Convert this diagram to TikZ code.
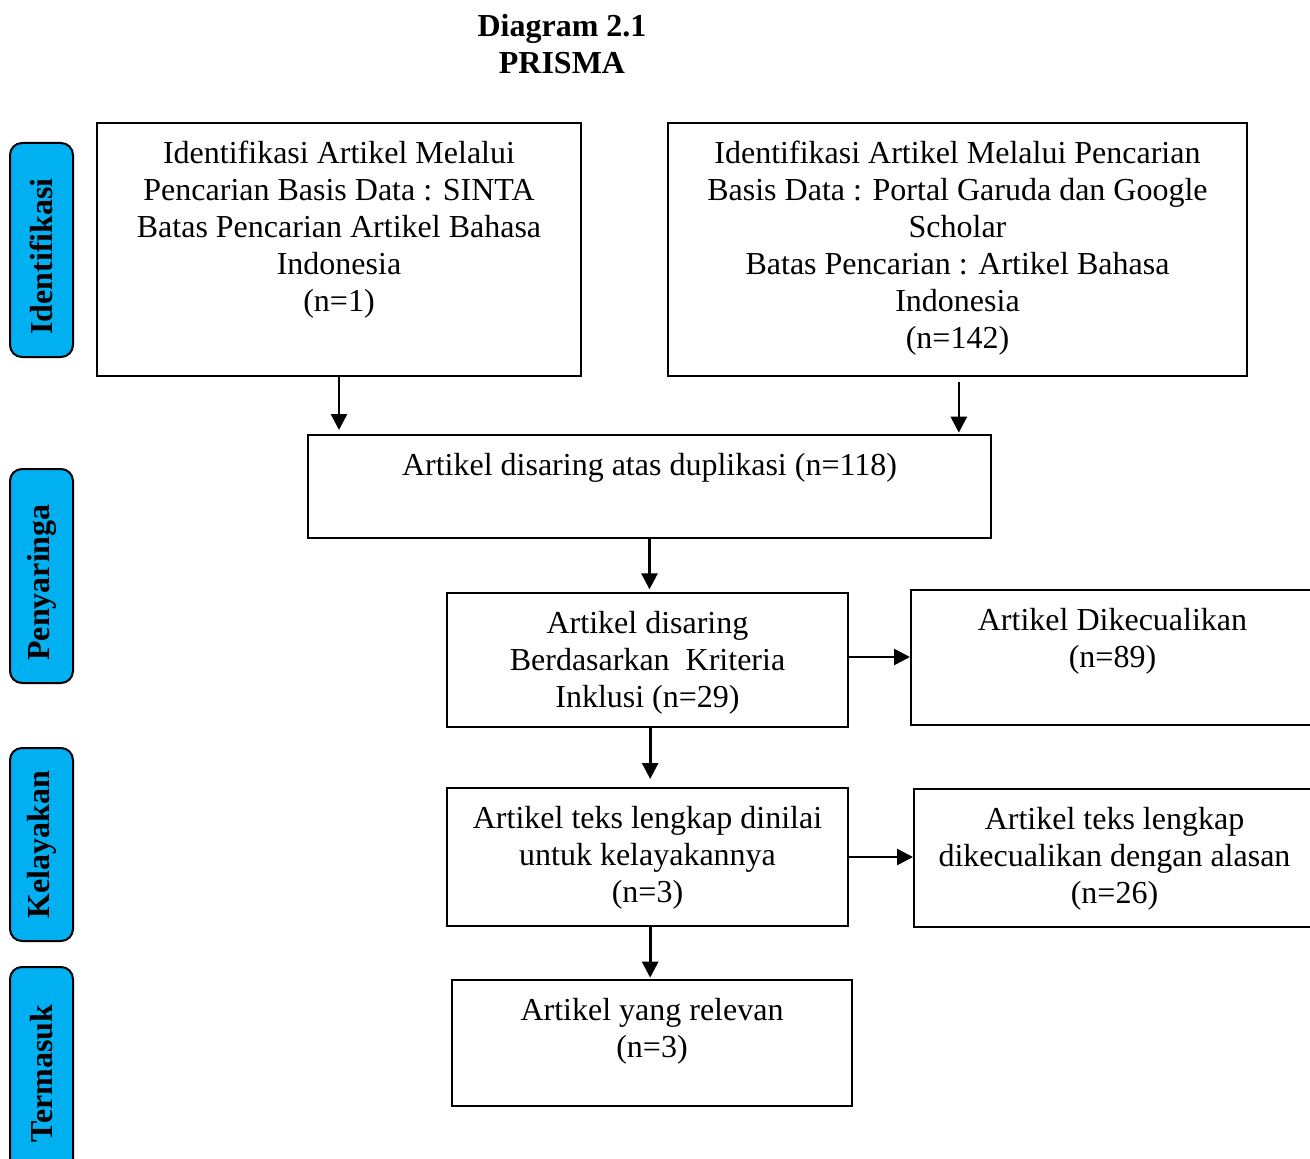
\documentclass[tikz,border=0pt]{standalone}
\usepackage{fontspec}
\setmainfont{Liberation Serif}
\usetikzlibrary{arrows.meta}
\definecolor{tabblue}{HTML}{00B0F0}
\tikzset{
  txt/.style={font=\fontsize{24pt}{27.75pt}\selectfont, inner sep=0pt, align=center, anchor=north},
  boxtxt/.style={txt, yshift=-11.25pt},
  box/.style={draw, line width=1.5pt, inner sep=0pt},
  tab/.style={draw, line width=1.5pt, fill=tabblue, rounded corners=9pt, rotate=90, inner sep=0pt},
  tabtxt/.style={rotate=90, inner sep=0pt, font=\fontsize{24pt}{27.75pt}\selectfont\bfseries},
  arr/.style={line width=2pt, -{Triangle[length=12pt,width=12pt]}}
}
\begin{document}
\begin{tikzpicture}[x=0.75pt,y=-0.75pt]
\clip (0,0) rectangle (1310,1159);
\fill[white] (0,0) rectangle (1310,1159);
% title
\node[txt, font=\fontsize{24pt}{27.75pt}\selectfont\bfseries] (title) at (562,10) {\strut Diagram 2.1\\PRISMA};
% side tabs
\node[tab, minimum width={214*0.75pt}, minimum height={63*0.75pt}] (t1) at (41.5,250) {};
\node[tabtxt] (t1t) at ([yshift=-4.9pt]t1.center) {Identifikasi};
\node[tab, minimum width={214*0.75pt}, minimum height={63*0.75pt}] (t2) at (41.5,576) {};
\node[tabtxt] (t2t) at ([yshift=-4.9pt]t2.center) {Penyaringa};
\node[tab, minimum width={193*0.75pt}, minimum height={63*0.75pt}] (t3) at (41.5,844.5) {};
\node[tabtxt] (t3t) at (t3.center) {Kelayakan};
\node[tab, minimum width={213*0.75pt}, minimum height={63*0.75pt}] (t4) at (41.5,1073.5) {};
\node[tabtxt] (t4t) at (t4.center) {Termasuk};
% boxes
\node[box, minimum width={484*0.75pt}, minimum height={253*0.75pt}] (A) at (339,249.5) {};
\node[box, minimum width={579*0.75pt}, minimum height={253*0.75pt}] (B) at (957.5,249.5) {};
\node[box, minimum width={683*0.75pt}, minimum height={103*0.75pt}] (C) at (649.5,486.5) {};
\node[box, minimum width={401*0.75pt}, minimum height={134*0.75pt}] (D) at (647.5,660) {};
\node[box, minimum width={403*0.75pt}, minimum height={135*0.75pt}] (E) at (1112.5,657.5) {};
\node[box, minimum width={401*0.75pt}, minimum height={138*0.75pt}] (F) at (647.5,857) {};
\node[box, minimum width={401*0.75pt}, minimum height={138*0.75pt}] (G) at (1114.5,858) {};
\node[box, minimum width={400*0.75pt}, minimum height={126*0.75pt}] (H) at (652,1043) {};
% texts
\node[boxtxt] (At) at (A.north) {\strut Identifikasi Artikel Melalui\\Pencarian Basis Data : SINTA\\Batas Pencarian Artikel Bahasa\\Indonesia\\(n=1)};
\node[boxtxt] (Bt) at (B.north) {\strut Identifikasi Artikel Melalui Pencarian\\Basis Data : Portal Garuda dan Google\\Scholar\\Batas Pencarian : Artikel Bahasa\\Indonesia\\(n=142)};
\node[boxtxt] (Ct) at (C.north) {\strut Artikel disaring atas duplikasi (n=118)};
\node[boxtxt] (Dt) at (D.north) {\strut Artikel disaring\\Berdasarkan\ \ Kriteria\\Inklusi (n=29)};
\node[boxtxt] (Et) at (E.north) {\strut Artikel Dikecualikan\\(n=89)};
\node[boxtxt] (Ft) at (F.north) {\strut Artikel teks lengkap dinilai\\untuk kelayakannya\\(n=3)};
\node[boxtxt] (Gt) at (G.north) {\strut Artikel teks lengkap\\dikecualikan dengan alasan\\(n=26)};
\node[boxtxt] (Ht) at (H.north) {\strut Artikel yang relevan\\(n=3)};
% arrows
\draw[arr, shorten >=3pt] (A.south) -- (A.south |- C.north);
\draw[arr, shorten <=4pt, shorten >=1pt] ([xshift=1pt]B.south) -- ([xshift=1pt]B.south |- C.north);
\draw[arr, shorten >=2pt] (C.south) -- (C.south |- D.north);
\draw[arr] ([yshift=2.25pt]D.east) -- ([yshift=2.25pt]D.east -| E.west);
\draw[arr, shorten >=6pt] ([xshift=2pt]D.south) -- ([xshift=2pt]D.south |- F.north);
\draw[arr] (F.east) -- (F.east -| G.west);
\draw[arr, shorten >=1pt] ([xshift=2pt]F.south) -- ([xshift=2pt]F.south |- H.north);
\end{tikzpicture}
\end{document}
